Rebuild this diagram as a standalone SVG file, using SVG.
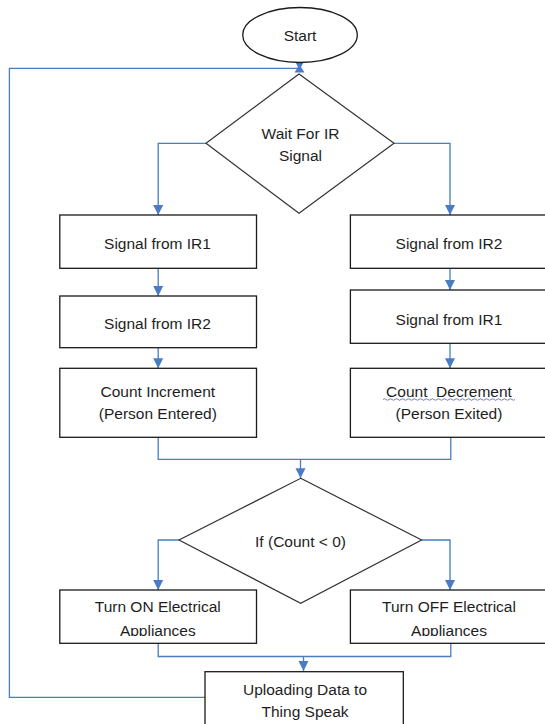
<svg xmlns="http://www.w3.org/2000/svg" width="545" height="724" viewBox="0 0 545 724">
<style>
.box{fill:#fff;stroke:#1a1a1a;stroke-width:1.3}
.dia{fill:#fff;stroke:#333;stroke-width:1.2}
.con{fill:none;stroke:#4a7cc4;stroke-width:1.3}
.t{font-family:"Liberation Sans",Arial,sans-serif;font-size:15.5px;fill:#1e1e1e;text-anchor:middle}
</style>
<defs>
<marker id="ah" markerUnits="userSpaceOnUse" markerWidth="12" markerHeight="12" viewBox="0 0 12 12" refX="10" refY="6" orient="auto">
<path d="M0,1 L10,6 L0,11 Z" fill="#4a7cc4"/>
</marker>
<clipPath id="clipL"><rect x="59" y="589" width="199" height="47"/></clipPath>
<clipPath id="clipR"><rect x="350" y="589" width="200" height="47"/></clipPath>
</defs>

<g id="connectors">
<path class="con" d="M206,143.3 H158.2 V215" marker-end="url(#ah)"/>
<path class="con" d="M394,143.3 H450 V215" marker-end="url(#ah)"/>
<path class="con" d="M158.2,268.3 V296" marker-end="url(#ah)"/>
<path class="con" d="M158.2,347.7 V368.3" marker-end="url(#ah)"/>
<path class="con" d="M450,268.3 V290" marker-end="url(#ah)"/>
<path class="con" d="M450,343.3 V368.3" marker-end="url(#ah)"/>
<path class="con" d="M158.2,437.3 V459.3 H450.8 V437.3"/>
<path class="con" d="M300.5,459.3 V478.3" marker-end="url(#ah)"/>
<path class="con" d="M179,540 H158.2 V590" marker-end="url(#ah)"/>
<path class="con" d="M421.6,540 H450 V590" marker-end="url(#ah)"/>
<path class="con" d="M158.2,643.3 V656.5 H450.8 V643.3"/>
<path class="con" d="M303.5,656.5 V671" marker-end="url(#ah)"/>
<path class="con" d="M205,697.3 H9.4 V68.3 H298"/>
<polygon points="295,61.5 304,61.5 301,67 304.5,72.5 294.5,72.5 298,67" fill="#4a7cc4"/>
</g>

<g id="start">
<ellipse cx="300" cy="35" rx="57.3" ry="27.5" fill="#fff" stroke="#1a1a1a" stroke-width="1.3"/>
<text class="t" x="300" y="40.5">Start</text>
</g>

<g id="wait">
<polygon class="dia" points="299,74 394,143.3 299,213.3 206,143.3"/>
<text class="t" x="300.5" y="138.5">Wait For IR</text>
<text class="t" x="300.5" y="161">Signal</text>
</g>

<g id="l1">
<rect class="box" x="59.8" y="215" width="196.7" height="53.3"/>
<text class="t" x="157.5" y="248.5">Signal from IR1</text>
</g>
<g id="l2">
<rect class="box" x="59.8" y="296" width="196.7" height="51.7"/>
<text class="t" x="157.5" y="328.5">Signal from IR2</text>
</g>
<g id="l3">
<rect class="box" x="59.8" y="368.3" width="196.7" height="69"/>
<text class="t" x="157.8" y="397">Count Increment</text>
<text class="t" x="157.8" y="418.5">(Person Entered)</text>
</g>

<g id="r1">
<rect class="box" x="350.4" y="215" width="210" height="53.3"/>
<text class="t" x="449" y="248.5">Signal from IR2</text>
</g>
<g id="r2">
<rect class="box" x="350.4" y="290" width="210" height="53.3"/>
<text class="t" x="449" y="325">Signal from IR1</text>
</g>
<g id="r3">
<rect class="box" x="350.4" y="368.3" width="210" height="69"/>
<text class="t" x="449" y="397" xml:space="preserve">Count  Decrement</text>
<text class="t" x="449" y="418.5">(Person Exited)</text>
<path d="M383,399.5 q1.5,-1.5 3,0 t3,0 t3,0 t3,0 t3,0 t3,0 t3,0 t3,0 t3,0 t3,0 t3,0 t3,0 t3,0 t3,0 t3,0 t3,0 t3,0 t3,0 t3,0 t3,0 t3,0 t3,0 t3,0 t3,0 t3,0 t3,0 t3,0 t3,0 t3,0 t3,0 t3,0 t3,0 t3,0 t3,0 t3,0 t3,0 t3,0 t3,0 t3,0 t3,0 t3,0 t3,0 t3,0 t3,0" fill="none" stroke="#4a5fd0" stroke-width="0.8"/>
</g>

<g id="ifcount">
<polygon class="dia" points="300.7,478.3 421.6,540 300.7,603.3 179,540"/>
<text class="t" x="300.5" y="547">If (Count &lt; 0)</text>
</g>

<g id="on">
<rect class="box" x="59.8" y="590" width="196.7" height="53.3"/>
<g clip-path="url(#clipL)">
<text class="t" x="157.8" y="612">Turn ON Electrical</text>
<text class="t" x="157.8" y="635.5">Appliances</text>
</g>
</g>
<g id="off">
<rect class="box" x="350.4" y="590" width="210" height="53.3"/>
<g clip-path="url(#clipR)">
<text class="t" x="449" y="612">Turn OFF Electrical</text>
<text class="t" x="449" y="635.5">Appliances</text>
</g>
</g>

<g id="upload">
<rect class="box" x="205" y="671.7" width="198.3" height="60"/>
<text class="t" x="305" y="694.5">Uploading Data to</text>
<text class="t" x="305" y="717">Thing Speak</text>
</g>
</svg>
